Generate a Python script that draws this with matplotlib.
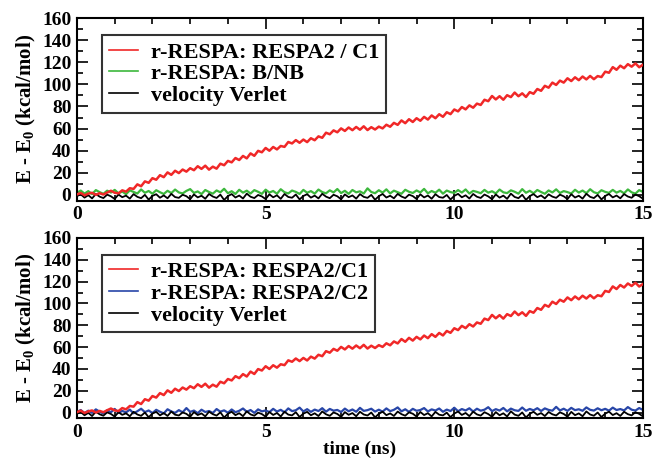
import numpy as np
import matplotlib
matplotlib.use("Agg")
import matplotlib.pyplot as plt
from matplotlib.ticker import MultipleLocator

plt.rcParams["font.family"] = ["Liberation Serif", "DejaVu Serif"]
plt.rcParams["font.weight"] = "bold"
plt.rcParams["axes.labelweight"] = "bold"
plt.rcParams["mathtext.fontset"] = "custom"
plt.rcParams["mathtext.rm"] = "Liberation Serif:bold"
plt.rcParams["mathtext.bf"] = "Liberation Serif:bold"

# tempo in ns, un punto ogni 0.1 ns
tempo = np.round(np.arange(0, 15.05, 0.1), 1)

# r-RESPA: RESPA2 / C1 (uguale nei due pannelli)
respa2_c1 = [
    0.5, 1.8, -0.3, 1.2, 2.0, 0.1, 1.6, 0.4, 2.2, 3.8, 2.0,
    1.5, 4.2, 3.0, 6.1, 5.5, 9.6, 7.9, 12.3, 11.0, 15.2,
    13.8, 17.9, 16.1, 20.4, 18.2, 21.9, 19.8, 23.0, 21.1, 24.2,
    22.4, 26.0, 23.6, 26.5, 22.9, 25.6, 23.8, 28.3, 26.9, 30.8,
    29.5, 33.4, 31.6, 35.3, 33.1, 37.6, 35.4, 39.9, 38.6, 42.5,
    40.0, 43.4, 41.2, 44.3, 43.5, 47.9, 46.6, 49.6, 47.2, 50.1,
    47.8, 51.3, 49.5, 53.0, 51.7, 56.3, 54.9, 58.4, 56.7, 60.2,
    57.9, 61.0, 58.6, 61.5, 59.0, 62.1, 58.7, 61.3, 59.2, 61.8,
    60.2, 63.5, 61.7, 65.2, 63.4, 67.4, 64.9, 68.5, 66.0, 69.4,
    67.1, 70.6, 68.2, 71.9, 69.4, 73.0, 70.7, 74.8, 73.1, 77.3,
    75.6, 79.5, 77.4, 81.0, 78.9, 82.6, 81.4, 86.1, 84.8, 89.5,
    86.4, 89.3, 86.1, 90.2, 88.5, 92.6, 89.3, 91.9, 88.6, 93.0,
    91.5, 95.8, 94.2, 98.7, 97.0, 101.6, 99.5, 103.4, 101.6, 105.5,
    103.0, 106.4, 103.8, 107.1, 104.5, 107.6, 104.7, 107.5, 106.6, 111.5,
    110.5, 115.6, 113.2, 116.9, 114.6, 118.3, 116.0, 119.0, 115.5, 117.8,
]

# r-RESPA: B/NB
b_nb = [
    2.1, 4.0, 1.2, 3.5, 0.8, 4.4, 2.6, 1.0, 3.9, 2.2, 4.6,
    1.5, 3.1, 0.7, 4.2, 2.8, 1.3, 5.0, 2.0, 3.6, 1.1,
    4.3, 2.5, 0.9, 3.8, 1.7, 4.9, 2.3, 1.4, 3.7, 5.3,
    1.9, 3.2, 0.8, 4.5, 2.7, 1.2, 4.1, 2.4, 5.6, 1.6,
    3.4, 0.9, 4.7, 2.1, 3.9, 1.3, 4.4, 2.9, 1.0, 4.8,
    2.2, 3.6, 1.1, 5.2, 2.5, 1.4, 4.0, 2.8, 0.9, 4.6,
    2.0, 3.5, 1.2, 4.9, 2.6, 1.5, 4.2, 2.3, 5.4, 1.7,
    3.8, 1.0, 4.5, 2.4, 3.3, 1.3, 6.0, 2.7, 1.6, 4.3,
    2.1, 5.1, 1.4, 3.9, 2.5, 1.1, 4.7, 2.9, 1.8, 4.1,
    2.3, 5.5, 1.5, 3.6, 2.0, 4.8, 1.2, 4.0, 2.6, 1.9,
    4.4, 2.2, 5.0, 1.3, 3.7, 2.8, 1.6, 4.6, 2.1, 3.4,
    1.4, 4.9, 2.4, 1.7, 4.2, 2.9, 1.2, 5.3, 2.0, 3.8,
    1.5, 4.5, 2.7, 1.1, 4.1, 2.3, 5.1, 1.8, 3.5, 2.6,
    1.3, 4.7, 2.2, 4.0, 1.6, 5.2, 2.5, 1.4, 4.3, 2.8,
    1.9, 4.6, 2.1, 3.7, 1.5, 5.0, 2.4, 1.2, 4.4, 2.7,
]

# r-RESPA: RESPA2 / C2
respa2_c2 = [
    0.6, 2.4, -0.5, 1.8, -0.2, 3.0, 0.9, -0.8, 2.2, 0.4, 3.4,
    -0.3, 1.6, 0.2, 2.8, -0.6, 1.3, 3.6, 0.5, 2.0, -0.4,
    2.6, 0.8, -0.7, 3.1, 1.1, -0.2, 2.3, 0.3, 4.2, 0.7,
    1.9, -0.5, 2.7, 0.6, 1.5, -0.3, 3.3, 0.9, 2.1, -0.1,
    2.9, 0.4, 1.7, 3.8, 0.8, 2.4, -0.2, 3.0, 1.2, 2.0,
    0.5, 3.5, 1.0, 2.6, 0.3, 3.9, 1.4, 2.2, 4.6, 1.1,
    3.2, 0.7, 2.8, 1.5, 4.1, 0.9, 3.4, 1.8, 2.5, 0.6,
    3.7, 1.3, 2.9, 0.8, 4.4, 1.6, 2.3, 3.6, 1.0, 2.7,
    0.9, 3.9, 1.4, 2.6, 4.8, 1.2, 3.1, 0.7, 3.5, 1.7,
    2.4, 4.2, 1.1, 3.0, 1.9, 3.8, 0.8, 2.8, 1.5, 4.5,
    1.3, 3.3, 2.0, 4.0, 1.0, 3.6, 1.8, 2.7, 5.0, 1.4,
    3.2, 1.9, 4.3, 1.2, 3.7, 2.2, 1.6, 4.7, 1.7, 3.4,
    2.1, 4.1, 1.5, 3.9, 2.5, 1.8, 5.3, 2.0, 3.6, 1.6,
    4.4, 2.3, 3.1, 1.7, 4.8, 2.6, 1.9, 4.0, 2.2, 3.5,
    1.8, 4.6, 2.4, 3.3, 2.0, 5.1, 2.7, 1.9, 4.2, 2.5,
]

# velocity Verlet (uguale nei due pannelli)
velocity_verlet = [
    -1.0, 0.6, -2.4, -0.2, -3.1, 0.9, -1.5, -2.8, 0.3, -1.2, -3.6,
    0.4, -2.0, -0.6, -3.3, 0.8, -1.7, -2.9, 0.1, -4.2, -0.8,
    0.7, -2.5, -0.4, -3.0, 1.0, -1.9, -2.6, 0.2, -1.1, -3.8,
    0.5, -2.2, -0.7, -3.4, 0.9, -1.4, -2.7, 0.3, -4.5, -1.0,
    0.8, -2.3, -0.5, -3.2, 1.2, -1.6, -2.8, 0.0, -1.3, -3.7,
    0.6, -2.1, -0.3, -3.5, 0.9, -1.8, -2.5, 0.4, -4.0, -0.9,
    0.7, -2.4, -0.6, -3.1, 1.1, -1.5, -2.9, 0.2, -1.2, -3.9,
    0.5, -2.0, -0.4, -3.3, 0.8, -1.7, -2.6, 0.1, -4.3, -1.1,
    0.9, -2.3, -0.7, -3.0, 1.0, -1.4, -2.8, 0.3, -1.0, -3.6,
    0.6, -2.2, -0.5, -3.4, 0.7, -1.9, -2.5, 0.0, -4.1, -0.8,
    1.0, -2.1, -0.3, -3.2, 0.9, -1.6, -2.7, 0.4, -1.3, -3.8,
    0.5, -2.4, -0.6, -3.5, 1.2, -1.8, -2.9, 0.2, -4.4, -1.0,
    0.8, -2.0, -0.4, -3.1, 0.6, -1.5, -2.6, 0.3, -1.2, -3.7,
    0.7, -2.3, -0.7, -3.3, 1.1, -1.7, -2.8, 0.1, -4.0, -0.9,
    0.9, -2.2, -0.5, -3.0, 0.8, -1.4, -2.5, 0.4, -1.1, -3.4,
]

rosso = "#f02828"
verde = "#3cb83c"
blu = "#2846a8"
nero = "black"

fig = plt.figure(figsize=(6.54, 4.62), dpi=100)
ax1 = fig.add_axes([0.1177, 0.566, 0.8654, 0.395])
ax2 = fig.add_axes([0.1177, 0.095, 0.8654, 0.39])

# pannello superiore
ax1.plot(tempo, b_nb, color=verde, lw=1.6, label="r-RESPA: B/NB", zorder=2)
ax1.plot(tempo, velocity_verlet, color=nero, lw=1.3, label="velocity Verlet", zorder=3)
ax1.plot(tempo, respa2_c1, color=rosso, lw=1.8, label="r-RESPA: RESPA2 / C1", zorder=4)

# pannello inferiore
ax2.plot(tempo, respa2_c2, color=blu, lw=1.6, label="r-RESPA: RESPA2/C2", zorder=2)
ax2.plot(tempo, velocity_verlet, color=nero, lw=1.3, label="velocity Verlet", zorder=3)
ax2.plot(tempo, respa2_c1, color=rosso, lw=1.8, label="r-RESPA: RESPA2/C1", zorder=4)

for ax in (ax1, ax2):
    ax.set_xlim(0, 15)
    ax.set_ylim(-5, 160)
    ax.xaxis.set_major_locator(MultipleLocator(5))
    ax.xaxis.set_minor_locator(MultipleLocator(1))
    ax.yaxis.set_major_locator(MultipleLocator(20))
    ax.yaxis.set_minor_locator(MultipleLocator(10))
    ax.tick_params(which="both", direction="in", top=True, right=True, width=1.2)
    ax.tick_params(which="major", length=8, labelsize=14, pad=4)
    ax.tick_params(which="minor", length=4)
    for s in ax.spines.values():
        s.set_linewidth(1.5)
    ax.set_ylabel(r"E - E$_{\mathbf{0}}$ (kcal/mol)", fontsize=15,
                  fontweight="bold", labelpad=3)
    # riordino legenda: rosso, altro, nero
    h, l = ax.get_legend_handles_labels()
    ordine = [2, 0, 1]
    leg = ax.legend([h[i] for i in ordine], [l[i] for i in ordine],
                    loc="upper left", bbox_to_anchor=(0.045, 0.905),
                    prop={"size": 16, "weight": "bold"}, frameon=True, fancybox=False,
                    handlelength=1.3, handletextpad=0.6, labelspacing=0.05,
                    borderpad=0.3, borderaxespad=0)
    leg.get_frame().set_edgecolor("black")
    leg.get_frame().set_linewidth(1.5)
    for line in leg.get_lines():
        line.set_linewidth(1.2)

ax2.set_xlabel("time (ns)", fontsize=14, fontweight="bold", labelpad=0)

fig.savefig("out.png", dpi=100)
